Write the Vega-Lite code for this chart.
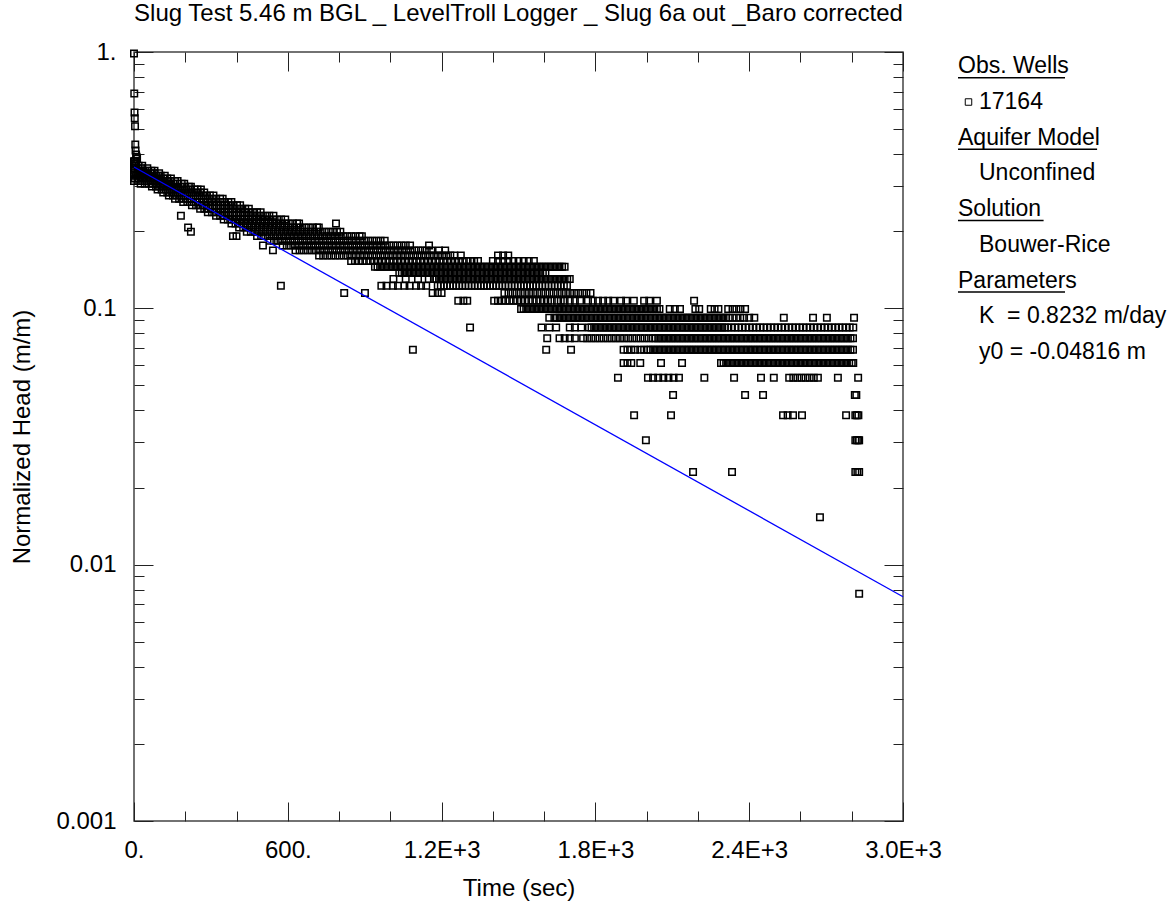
{
"$schema": "https://vega.github.io/schema/vega-lite/v6.json",
"background": "#ffffff",
"padding": {"left": 10, "top": 1, "right": 0, "bottom": 0},
"spacing": 14,
"config": {
  "view": {"stroke": null},
  "font": "Liberation Sans",
  "axis": {"labelFont": "Liberation Sans", "titleFont": "Liberation Sans", "labelFontSize": 24, "titleFontSize": 24, "titleFontWeight": "normal", "labelColor": "#000000", "titleColor": "#000000", "grid": false, "domain": false, "tickColor": "#222222", "tickWidth": 1, "labelFlush": false, "labelOverlap": false},
  "title": {"font": "Liberation Sans", "fontSize": 24, "fontWeight": "normal", "color": "#000000"}
},
"datasets": {
"fit": [{"t":0,"h":0.356},{"t":3000,"h":0.0075}],
"notes": [
{"line":1,"role":"heading","label":"Obs. Wells"},
{"line":2,"role":"symbol","label":"17164"},
{"line":2,"role":"item","label":"17164"},
{"line":3,"role":"heading","label":"Aquifer Model"},
{"line":4,"role":"item","label":"Unconfined"},
{"line":5,"role":"heading","label":"Solution"},
{"line":6,"role":"item","label":"Bouwer-Rice"},
{"line":7,"role":"heading","label":"Parameters"},
{"line":8,"role":"item","label":"K\u00a0 = 0.8232 m/day"},
{"line":9,"role":"item","label":"y0 = -0.04816 m"}
],
"obs": [
{"t":0,"h":0.987},{"t":1,"h":0.689},{"t":2,"h":0.581},{"t":3,"h":0.551},{"t":4,"h":0.513},{"t":5,"h":0.436},{"t":6,"h":0.413},{"t":8,"h":0.398},{"t":10,"h":0.39},{"t":12,"h":0.383},
{"t":0,"h":0.3749},{"t":4,"h":0.3749},
{"t":0,"h":0.3672},{"t":8,"h":0.3672},
{"t":2,"h":0.3596},{"t":18,"h":0.3596},{"t":32,"h":0.3596},
{"t":0,"h":0.3519},{"t":16,"h":0.3519},{"t":32,"h":0.3519},{"t":52,"h":0.3519},
{"t":4,"h":0.3443},{"t":20,"h":0.3443},{"t":36,"h":0.3443},{"t":52,"h":0.3443},{"t":68,"h":0.3443},{"t":80,"h":0.3443},
{"t":0,"h":0.3366},{"t":16,"h":0.3366},{"t":32,"h":0.3366},{"t":48,"h":0.3366},{"t":64,"h":0.3366},{"t":80,"h":0.3366},{"t":98,"h":0.3366},
{"t":8,"h":0.329},{"t":24,"h":0.329},{"t":40,"h":0.329},{"t":56,"h":0.329},{"t":72,"h":0.329},{"t":88,"h":0.329},{"t":104,"h":0.329},{"t":120,"h":0.329},
{"t":4,"h":0.3213},{"t":18,"h":0.3213},{"t":34,"h":0.3213},{"t":50,"h":0.3213},{"t":66,"h":0.3213},{"t":82,"h":0.3213},{"t":98,"h":0.3213},{"t":114,"h":0.3213},{"t":130,"h":0.3213},{"t":144,"h":0.3213},
{"t":0,"h":0.3137},{"t":16,"h":0.3137},{"t":32,"h":0.3137},{"t":48,"h":0.3137},{"t":64,"h":0.3137},{"t":80,"h":0.3137},{"t":96,"h":0.3137},{"t":112,"h":0.3137},{"t":128,"h":0.3137},{"t":144,"h":0.3137},{"t":160,"h":0.3137},{"t":170,"h":0.3137},
{"t":26,"h":0.306},{"t":42,"h":0.306},{"t":58,"h":0.306},{"t":74,"h":0.306},{"t":90,"h":0.306},{"t":106,"h":0.306},{"t":122,"h":0.306},{"t":138,"h":0.306},{"t":154,"h":0.306},{"t":170,"h":0.306},{"t":186,"h":0.306},{"t":196,"h":0.306},
{"t":70,"h":0.2984},{"t":86,"h":0.2984},{"t":102,"h":0.2984},{"t":118,"h":0.2984},{"t":134,"h":0.2984},{"t":150,"h":0.2984},{"t":166,"h":0.2984},{"t":182,"h":0.2984},{"t":198,"h":0.2984},{"t":214,"h":0.2984},{"t":222,"h":0.2984},
{"t":92,"h":0.2907},{"t":108,"h":0.2907},{"t":124,"h":0.2907},{"t":140,"h":0.2907},{"t":156,"h":0.2907},{"t":172,"h":0.2907},{"t":188,"h":0.2907},{"t":204,"h":0.2907},{"t":220,"h":0.2907},{"t":236,"h":0.2907},{"t":248,"h":0.2907},{"t":261,"h":0.2907},
{"t":114,"h":0.2831},{"t":130,"h":0.2831},{"t":146,"h":0.2831},{"t":162,"h":0.2831},{"t":178,"h":0.2831},{"t":194,"h":0.2831},{"t":210,"h":0.2831},{"t":226,"h":0.2831},{"t":242,"h":0.2831},{"t":258,"h":0.2831},{"t":274,"h":0.2831},
{"t":136,"h":0.2754},{"t":152,"h":0.2754},{"t":168,"h":0.2754},{"t":184,"h":0.2754},{"t":200,"h":0.2754},{"t":216,"h":0.2754},{"t":232,"h":0.2754},{"t":248,"h":0.2754},{"t":264,"h":0.2754},{"t":280,"h":0.2754},{"t":296,"h":0.2754},{"t":310,"h":0.2754},
{"t":160,"h":0.2678},{"t":176,"h":0.2678},{"t":192,"h":0.2678},{"t":208,"h":0.2678},{"t":224,"h":0.2678},{"t":240,"h":0.2678},{"t":256,"h":0.2678},{"t":272,"h":0.2678},{"t":288,"h":0.2678},{"t":304,"h":0.2678},{"t":320,"h":0.2678},{"t":336,"h":0.2678},{"t":346,"h":0.2678},
{"t":192,"h":0.2601},{"t":208,"h":0.2601},{"t":224,"h":0.2601},{"t":240,"h":0.2601},{"t":256,"h":0.2601},{"t":272,"h":0.2601},{"t":288,"h":0.2601},{"t":304,"h":0.2601},{"t":320,"h":0.2601},{"t":336,"h":0.2601},{"t":352,"h":0.2601},{"t":368,"h":0.2601},{"t":380,"h":0.2601},
{"t":226,"h":0.2525},{"t":242,"h":0.2525},{"t":258,"h":0.2525},{"t":274,"h":0.2525},{"t":290,"h":0.2525},{"t":306,"h":0.2525},{"t":322,"h":0.2525},{"t":338,"h":0.2525},{"t":354,"h":0.2525},{"t":370,"h":0.2525},{"t":386,"h":0.2525},{"t":402,"h":0.2525},{"t":414,"h":0.2525},
{"t":258,"h":0.2448},{"t":274,"h":0.2448},{"t":290,"h":0.2448},{"t":306,"h":0.2448},{"t":322,"h":0.2448},{"t":338,"h":0.2448},{"t":354,"h":0.2448},{"t":370,"h":0.2448},{"t":386,"h":0.2448},{"t":402,"h":0.2448},{"t":418,"h":0.2448},{"t":434,"h":0.2448},{"t":448,"h":0.2448},
{"t":288,"h":0.2372},{"t":304,"h":0.2372},{"t":320,"h":0.2372},{"t":336,"h":0.2372},{"t":352,"h":0.2372},{"t":368,"h":0.2372},{"t":384,"h":0.2372},{"t":400,"h":0.2372},{"t":416,"h":0.2372},{"t":432,"h":0.2372},{"t":448,"h":0.2372},{"t":464,"h":0.2372},{"t":480,"h":0.2372},{"t":494,"h":0.2372},
{"t":183,"h":0.2295},{"t":320,"h":0.2295},{"t":336,"h":0.2295},{"t":352,"h":0.2295},{"t":368,"h":0.2295},{"t":384,"h":0.2295},{"t":400,"h":0.2295},{"t":416,"h":0.2295},{"t":432,"h":0.2295},{"t":448,"h":0.2295},{"t":464,"h":0.2295},{"t":480,"h":0.2295},{"t":496,"h":0.2295},{"t":512,"h":0.2295},{"t":528,"h":0.2295},{"t":544,"h":0.2295},
{"t":350,"h":0.2219},{"t":366,"h":0.2219},{"t":382,"h":0.2219},{"t":398,"h":0.2219},{"t":414,"h":0.2219},{"t":430,"h":0.2219},{"t":446,"h":0.2219},{"t":462,"h":0.2219},{"t":478,"h":0.2219},{"t":494,"h":0.2219},{"t":510,"h":0.2219},{"t":526,"h":0.2219},{"t":542,"h":0.2219},{"t":558,"h":0.2219},{"t":574,"h":0.2219},{"t":590,"h":0.2219},
{"t":380,"h":0.2142},{"t":396,"h":0.2142},{"t":412,"h":0.2142},{"t":428,"h":0.2142},{"t":444,"h":0.2142},{"t":460,"h":0.2142},{"t":476,"h":0.2142},{"t":492,"h":0.2142},{"t":508,"h":0.2142},{"t":524,"h":0.2142},{"t":540,"h":0.2142},{"t":556,"h":0.2142},{"t":572,"h":0.2142},{"t":588,"h":0.2142},{"t":604,"h":0.2142},{"t":620,"h":0.2142},{"t":636,"h":0.2142},{"t":644,"h":0.2142},{"t":788,"h":0.2142},
{"t":211,"h":0.2066},{"t":410,"h":0.2066},{"t":426,"h":0.2066},{"t":442,"h":0.2066},{"t":458,"h":0.2066},{"t":474,"h":0.2066},{"t":490,"h":0.2066},{"t":506,"h":0.2066},{"t":522,"h":0.2066},{"t":538,"h":0.2066},{"t":554,"h":0.2066},{"t":570,"h":0.2066},{"t":586,"h":0.2066},{"t":602,"h":0.2066},{"t":618,"h":0.2066},{"t":634,"h":0.2066},{"t":650,"h":0.2066},{"t":666,"h":0.2066},{"t":682,"h":0.2066},{"t":698,"h":0.2066},{"t":714,"h":0.2066},{"t":721,"h":0.2066},
{"t":222,"h":0.1989},{"t":440,"h":0.1989},{"t":456,"h":0.1989},{"t":472,"h":0.1989},{"t":488,"h":0.1989},{"t":504,"h":0.1989},{"t":520,"h":0.1989},{"t":536,"h":0.1989},{"t":552,"h":0.1989},{"t":568,"h":0.1989},{"t":584,"h":0.1989},{"t":600,"h":0.1989},{"t":616,"h":0.1989},{"t":632,"h":0.1989},{"t":648,"h":0.1989},{"t":664,"h":0.1989},{"t":680,"h":0.1989},{"t":696,"h":0.1989},{"t":712,"h":0.1989},{"t":728,"h":0.1989},{"t":744,"h":0.1989},{"t":760,"h":0.1989},{"t":776,"h":0.1989},{"t":792,"h":0.1989},{"t":805,"h":0.1989},
{"t":386,"h":0.1913},{"t":400,"h":0.1913},{"t":480,"h":0.1913},{"t":496,"h":0.1913},{"t":512,"h":0.1913},{"t":528,"h":0.1913},{"t":544,"h":0.1913},{"t":560,"h":0.1913},{"t":576,"h":0.1913},{"t":592,"h":0.1913},{"t":608,"h":0.1913},{"t":624,"h":0.1913},{"t":640,"h":0.1913},{"t":656,"h":0.1913},{"t":672,"h":0.1913},{"t":688,"h":0.1913},{"t":704,"h":0.1913},{"t":720,"h":0.1913},{"t":736,"h":0.1913},{"t":752,"h":0.1913},{"t":768,"h":0.1913},{"t":784,"h":0.1913},{"t":800,"h":0.1913},{"t":816,"h":0.1913},{"t":832,"h":0.1913},{"t":848,"h":0.1913},{"t":864,"h":0.1913},{"t":880,"h":0.1913},{"t":889,"h":0.1913},
{"t":530,"h":0.1836},{"t":546,"h":0.1836},{"t":562,"h":0.1836},{"t":578,"h":0.1836},{"t":594,"h":0.1836},{"t":610,"h":0.1836},{"t":626,"h":0.1836},{"t":642,"h":0.1836},{"t":658,"h":0.1836},{"t":674,"h":0.1836},{"t":690,"h":0.1836},{"t":706,"h":0.1836},{"t":722,"h":0.1836},{"t":738,"h":0.1836},{"t":754,"h":0.1836},{"t":770,"h":0.1836},{"t":786,"h":0.1836},{"t":802,"h":0.1836},{"t":818,"h":0.1836},{"t":834,"h":0.1836},{"t":850,"h":0.1836},{"t":866,"h":0.1836},{"t":882,"h":0.1836},{"t":898,"h":0.1836},{"t":914,"h":0.1836},{"t":930,"h":0.1836},{"t":946,"h":0.1836},{"t":962,"h":0.1836},{"t":978,"h":0.1836},
{"t":503,"h":0.176},{"t":580,"h":0.176},{"t":596,"h":0.176},{"t":612,"h":0.176},{"t":628,"h":0.176},{"t":644,"h":0.176},{"t":660,"h":0.176},{"t":676,"h":0.176},{"t":692,"h":0.176},{"t":708,"h":0.176},{"t":724,"h":0.176},{"t":740,"h":0.176},{"t":756,"h":0.176},{"t":772,"h":0.176},{"t":788,"h":0.176},{"t":804,"h":0.176},{"t":820,"h":0.176},{"t":836,"h":0.176},{"t":852,"h":0.176},{"t":868,"h":0.176},{"t":884,"h":0.176},{"t":900,"h":0.176},{"t":916,"h":0.176},{"t":932,"h":0.176},{"t":948,"h":0.176},{"t":964,"h":0.176},{"t":980,"h":0.176},{"t":996,"h":0.176},{"t":1012,"h":0.176},{"t":1028,"h":0.176},{"t":1044,"h":0.176},{"t":1060,"h":0.176},{"t":1077,"h":0.176},{"t":1151,"h":0.176},
{"t":542,"h":0.1683},{"t":630,"h":0.1683},{"t":646,"h":0.1683},{"t":662,"h":0.1683},{"t":678,"h":0.1683},{"t":694,"h":0.1683},{"t":710,"h":0.1683},{"t":726,"h":0.1683},{"t":742,"h":0.1683},{"t":758,"h":0.1683},{"t":774,"h":0.1683},{"t":790,"h":0.1683},{"t":806,"h":0.1683},{"t":822,"h":0.1683},{"t":838,"h":0.1683},{"t":854,"h":0.1683},{"t":870,"h":0.1683},{"t":886,"h":0.1683},{"t":902,"h":0.1683},{"t":918,"h":0.1683},{"t":934,"h":0.1683},{"t":950,"h":0.1683},{"t":966,"h":0.1683},{"t":982,"h":0.1683},{"t":998,"h":0.1683},{"t":1014,"h":0.1683},{"t":1030,"h":0.1683},{"t":1046,"h":0.1683},{"t":1062,"h":0.1683},{"t":1078,"h":0.1683},{"t":1094,"h":0.1683},{"t":1110,"h":0.1683},{"t":1126,"h":0.1683},{"t":1142,"h":0.1683},{"t":1160,"h":0.1683},{"t":1190,"h":0.1683},{"t":1214,"h":0.1683},
{"t":722,"h":0.1607},{"t":738,"h":0.1607},{"t":754,"h":0.1607},{"t":770,"h":0.1607},{"t":786,"h":0.1607},{"t":802,"h":0.1607},{"t":818,"h":0.1607},{"t":834,"h":0.1607},{"t":850,"h":0.1607},{"t":866,"h":0.1607},{"t":882,"h":0.1607},{"t":898,"h":0.1607},{"t":914,"h":0.1607},{"t":930,"h":0.1607},{"t":946,"h":0.1607},{"t":962,"h":0.1607},{"t":978,"h":0.1607},{"t":994,"h":0.1607},{"t":1010,"h":0.1607},{"t":1026,"h":0.1607},{"t":1042,"h":0.1607},{"t":1058,"h":0.1607},{"t":1074,"h":0.1607},{"t":1090,"h":0.1607},{"t":1106,"h":0.1607},{"t":1122,"h":0.1607},{"t":1138,"h":0.1607},{"t":1154,"h":0.1607},{"t":1170,"h":0.1607},{"t":1186,"h":0.1607},{"t":1202,"h":0.1607},{"t":1218,"h":0.1607},{"t":1234,"h":0.1607},{"t":1250,"h":0.1607},{"t":1275,"h":0.1607},{"t":1420,"h":0.1607},{"t":1440,"h":0.1607},{"t":1460,"h":0.1607},
{"t":847,"h":0.153},{"t":862,"h":0.153},{"t":877,"h":0.153},{"t":892,"h":0.153},{"t":907,"h":0.153},{"t":922,"h":0.153},{"t":937,"h":0.153},{"t":952,"h":0.153},{"t":967,"h":0.153},{"t":982,"h":0.153},{"t":997,"h":0.153},{"t":1012,"h":0.153},{"t":1027,"h":0.153},{"t":1042,"h":0.153},{"t":1057,"h":0.153},{"t":1072,"h":0.153},{"t":1087,"h":0.153},{"t":1102,"h":0.153},{"t":1117,"h":0.153},{"t":1132,"h":0.153},{"t":1147,"h":0.153},{"t":1162,"h":0.153},{"t":1177,"h":0.153},{"t":1192,"h":0.153},{"t":1207,"h":0.153},{"t":1222,"h":0.153},{"t":1237,"h":0.153},{"t":1252,"h":0.153},{"t":1267,"h":0.153},{"t":1282,"h":0.153},{"t":1297,"h":0.153},{"t":1312,"h":0.153},{"t":1327,"h":0.153},{"t":1342,"h":0.153},{"t":1400,"h":0.153},{"t":1420,"h":0.153},{"t":1440,"h":0.153},{"t":1460,"h":0.153},{"t":1480,"h":0.153},{"t":1500,"h":0.153},{"t":1520,"h":0.153},{"t":1540,"h":0.153},{"t":1560,"h":0.153},
{"t":940,"h":0.1454},{"t":950,"h":0.1454},{"t":960,"h":0.1454},{"t":970,"h":0.1454},{"t":980,"h":0.1454},{"t":990,"h":0.1454},{"t":1000,"h":0.1454},{"t":1010,"h":0.1454},{"t":1020,"h":0.1454},{"t":1030,"h":0.1454},{"t":1040,"h":0.1454},{"t":1050,"h":0.1454},{"t":1060,"h":0.1454},{"t":1070,"h":0.1454},{"t":1080,"h":0.1454},{"t":1090,"h":0.1454},{"t":1100,"h":0.1454},{"t":1110,"h":0.1454},{"t":1120,"h":0.1454},{"t":1130,"h":0.1454},{"t":1140,"h":0.1454},{"t":1150,"h":0.1454},{"t":1160,"h":0.1454},{"t":1170,"h":0.1454},{"t":1180,"h":0.1454},{"t":1190,"h":0.1454},{"t":1200,"h":0.1454},{"t":1210,"h":0.1454},{"t":1220,"h":0.1454},{"t":1230,"h":0.1454},{"t":1240,"h":0.1454},{"t":1250,"h":0.1454},{"t":1260,"h":0.1454},{"t":1270,"h":0.1454},{"t":1280,"h":0.1454},{"t":1290,"h":0.1454},{"t":1300,"h":0.1454},{"t":1310,"h":0.1454},{"t":1320,"h":0.1454},{"t":1330,"h":0.1454},{"t":1340,"h":0.1454},{"t":1350,"h":0.1454},{"t":1360,"h":0.1454},{"t":1370,"h":0.1454},{"t":1380,"h":0.1454},{"t":1390,"h":0.1454},{"t":1400,"h":0.1454},{"t":1410,"h":0.1454},{"t":1420,"h":0.1454},{"t":1430,"h":0.1454},{"t":1440,"h":0.1454},{"t":1450,"h":0.1454},{"t":1460,"h":0.1454},{"t":1470,"h":0.1454},{"t":1480,"h":0.1454},{"t":1490,"h":0.1454},{"t":1500,"h":0.1454},{"t":1510,"h":0.1454},{"t":1520,"h":0.1454},{"t":1530,"h":0.1454},{"t":1540,"h":0.1454},{"t":1550,"h":0.1454},{"t":1560,"h":0.1454},{"t":1570,"h":0.1454},{"t":1580,"h":0.1454},{"t":1590,"h":0.1454},{"t":1600,"h":0.1454},{"t":1610,"h":0.1454},{"t":1620,"h":0.1454},{"t":1630,"h":0.1454},{"t":1640,"h":0.1454},{"t":1650,"h":0.1454},{"t":1660,"h":0.1454},{"t":1670,"h":0.1454},{"t":1680,"h":0.1454},
{"t":1035,"h":0.1377},{"t":1045,"h":0.1377},{"t":1055,"h":0.1377},{"t":1065,"h":0.1377},{"t":1075,"h":0.1377},{"t":1085,"h":0.1377},{"t":1095,"h":0.1377},{"t":1105,"h":0.1377},{"t":1115,"h":0.1377},{"t":1125,"h":0.1377},{"t":1135,"h":0.1377},{"t":1145,"h":0.1377},{"t":1155,"h":0.1377},{"t":1165,"h":0.1377},{"t":1175,"h":0.1377},{"t":1185,"h":0.1377},{"t":1195,"h":0.1377},{"t":1205,"h":0.1377},{"t":1215,"h":0.1377},{"t":1225,"h":0.1377},{"t":1235,"h":0.1377},{"t":1245,"h":0.1377},{"t":1255,"h":0.1377},{"t":1265,"h":0.1377},{"t":1275,"h":0.1377},{"t":1285,"h":0.1377},{"t":1295,"h":0.1377},{"t":1305,"h":0.1377},{"t":1315,"h":0.1377},{"t":1325,"h":0.1377},{"t":1335,"h":0.1377},{"t":1345,"h":0.1377},{"t":1355,"h":0.1377},{"t":1365,"h":0.1377},{"t":1375,"h":0.1377},{"t":1385,"h":0.1377},{"t":1395,"h":0.1377},{"t":1405,"h":0.1377},{"t":1415,"h":0.1377},{"t":1425,"h":0.1377},{"t":1435,"h":0.1377},{"t":1445,"h":0.1377},{"t":1455,"h":0.1377},{"t":1465,"h":0.1377},{"t":1475,"h":0.1377},{"t":1485,"h":0.1377},{"t":1495,"h":0.1377},{"t":1505,"h":0.1377},{"t":1515,"h":0.1377},{"t":1525,"h":0.1377},{"t":1535,"h":0.1377},{"t":1545,"h":0.1377},{"t":1555,"h":0.1377},{"t":1565,"h":0.1377},{"t":1575,"h":0.1377},{"t":1585,"h":0.1377},{"t":1595,"h":0.1377},{"t":1605,"h":0.1377},
{"t":1012,"h":0.1301},{"t":1060,"h":0.1301},{"t":1108,"h":0.1301},{"t":1150,"h":0.1301},{"t":1170,"h":0.1301},{"t":1180,"h":0.1301},{"t":1190,"h":0.1301},{"t":1200,"h":0.1301},{"t":1210,"h":0.1301},{"t":1220,"h":0.1301},{"t":1230,"h":0.1301},{"t":1240,"h":0.1301},{"t":1250,"h":0.1301},{"t":1260,"h":0.1301},{"t":1270,"h":0.1301},{"t":1280,"h":0.1301},{"t":1290,"h":0.1301},{"t":1300,"h":0.1301},{"t":1310,"h":0.1301},{"t":1320,"h":0.1301},{"t":1330,"h":0.1301},{"t":1340,"h":0.1301},{"t":1350,"h":0.1301},{"t":1360,"h":0.1301},{"t":1370,"h":0.1301},{"t":1380,"h":0.1301},{"t":1390,"h":0.1301},{"t":1400,"h":0.1301},{"t":1410,"h":0.1301},{"t":1420,"h":0.1301},{"t":1430,"h":0.1301},{"t":1440,"h":0.1301},{"t":1450,"h":0.1301},{"t":1460,"h":0.1301},{"t":1470,"h":0.1301},{"t":1480,"h":0.1301},{"t":1490,"h":0.1301},{"t":1500,"h":0.1301},{"t":1510,"h":0.1301},{"t":1520,"h":0.1301},{"t":1530,"h":0.1301},{"t":1540,"h":0.1301},{"t":1550,"h":0.1301},{"t":1560,"h":0.1301},{"t":1570,"h":0.1301},{"t":1580,"h":0.1301},{"t":1590,"h":0.1301},{"t":1600,"h":0.1301},{"t":1610,"h":0.1301},{"t":1620,"h":0.1301},{"t":1630,"h":0.1301},{"t":1640,"h":0.1301},{"t":1650,"h":0.1301},{"t":1660,"h":0.1301},{"t":1670,"h":0.1301},{"t":1680,"h":0.1301},{"t":1690,"h":0.1301},{"t":1700,"h":0.1301},
{"t":573,"h":0.1224},{"t":965,"h":0.1224},{"t":985,"h":0.1224},{"t":1010,"h":0.1224},{"t":1030,"h":0.1224},{"t":1055,"h":0.1224},{"t":1075,"h":0.1224},{"t":1100,"h":0.1224},{"t":1120,"h":0.1224},{"t":1140,"h":0.1224},{"t":1185,"h":0.1224},{"t":1197,"h":0.1224},{"t":1209,"h":0.1224},{"t":1221,"h":0.1224},{"t":1233,"h":0.1224},{"t":1245,"h":0.1224},{"t":1257,"h":0.1224},{"t":1269,"h":0.1224},{"t":1281,"h":0.1224},{"t":1293,"h":0.1224},{"t":1305,"h":0.1224},{"t":1317,"h":0.1224},{"t":1329,"h":0.1224},{"t":1341,"h":0.1224},{"t":1353,"h":0.1224},{"t":1365,"h":0.1224},{"t":1377,"h":0.1224},{"t":1389,"h":0.1224},{"t":1401,"h":0.1224},{"t":1413,"h":0.1224},{"t":1425,"h":0.1224},{"t":1437,"h":0.1224},{"t":1449,"h":0.1224},{"t":1461,"h":0.1224},{"t":1473,"h":0.1224},{"t":1485,"h":0.1224},{"t":1497,"h":0.1224},{"t":1509,"h":0.1224},{"t":1521,"h":0.1224},{"t":1533,"h":0.1224},{"t":1545,"h":0.1224},{"t":1557,"h":0.1224},{"t":1569,"h":0.1224},{"t":1581,"h":0.1224},{"t":1593,"h":0.1224},{"t":1605,"h":0.1224},{"t":1617,"h":0.1224},{"t":1629,"h":0.1224},{"t":1641,"h":0.1224},{"t":1653,"h":0.1224},{"t":1665,"h":0.1224},{"t":1677,"h":0.1224},{"t":1689,"h":0.1224},
{"t":820,"h":0.1148},{"t":901,"h":0.1148},{"t":1165,"h":0.1148},{"t":1185,"h":0.1148},{"t":1200,"h":0.1148},{"t":1445,"h":0.1148},{"t":1461,"h":0.1148},{"t":1477,"h":0.1148},{"t":1493,"h":0.1148},{"t":1509,"h":0.1148},{"t":1525,"h":0.1148},{"t":1541,"h":0.1148},{"t":1557,"h":0.1148},{"t":1573,"h":0.1148},{"t":1589,"h":0.1148},{"t":1605,"h":0.1148},{"t":1621,"h":0.1148},{"t":1637,"h":0.1148},{"t":1653,"h":0.1148},{"t":1669,"h":0.1148},{"t":1685,"h":0.1148},{"t":1701,"h":0.1148},{"t":1717,"h":0.1148},{"t":1733,"h":0.1148},{"t":1749,"h":0.1148},{"t":1765,"h":0.1148},{"t":1781,"h":0.1148},
{"t":1265,"h":0.1071},{"t":1285,"h":0.1071},{"t":1300,"h":0.1071},{"t":1405,"h":0.1071},{"t":1420,"h":0.1071},{"t":1435,"h":0.1071},{"t":1450,"h":0.1071},{"t":1465,"h":0.1071},{"t":1480,"h":0.1071},{"t":1495,"h":0.1071},{"t":1510,"h":0.1071},{"t":1525,"h":0.1071},{"t":1540,"h":0.1071},{"t":1555,"h":0.1071},{"t":1570,"h":0.1071},{"t":1585,"h":0.1071},{"t":1600,"h":0.1071},{"t":1615,"h":0.1071},{"t":1630,"h":0.1071},{"t":1650,"h":0.1071},{"t":1665,"h":0.1071},{"t":1680,"h":0.1071},{"t":1700,"h":0.1071},{"t":1720,"h":0.1071},{"t":1740,"h":0.1071},{"t":1771,"h":0.1071},{"t":1790,"h":0.1071},{"t":1810,"h":0.1071},{"t":1830,"h":0.1071},{"t":1850,"h":0.1071},{"t":1870,"h":0.1071},{"t":1900,"h":0.1071},{"t":1920,"h":0.1071},{"t":1950,"h":0.1071},{"t":1990,"h":0.1071},{"t":2010,"h":0.1071},{"t":2040,"h":0.1071},{"t":2185,"h":0.1071},
{"t":1510,"h":0.0995},{"t":1520,"h":0.0995},{"t":1530,"h":0.0995},{"t":1540,"h":0.0995},{"t":1550,"h":0.0995},{"t":1560,"h":0.0995},{"t":1570,"h":0.0995},{"t":1580,"h":0.0995},{"t":1590,"h":0.0995},{"t":1600,"h":0.0995},{"t":1610,"h":0.0995},{"t":1620,"h":0.0995},{"t":1630,"h":0.0995},{"t":1640,"h":0.0995},{"t":1650,"h":0.0995},{"t":1660,"h":0.0995},{"t":1670,"h":0.0995},{"t":1680,"h":0.0995},{"t":1690,"h":0.0995},{"t":1700,"h":0.0995},{"t":1710,"h":0.0995},{"t":1720,"h":0.0995},{"t":1730,"h":0.0995},{"t":1740,"h":0.0995},{"t":1750,"h":0.0995},{"t":1760,"h":0.0995},{"t":1770,"h":0.0995},{"t":1780,"h":0.0995},{"t":1790,"h":0.0995},{"t":1800,"h":0.0995},{"t":1810,"h":0.0995},{"t":1820,"h":0.0995},{"t":1830,"h":0.0995},{"t":1840,"h":0.0995},{"t":1850,"h":0.0995},{"t":1860,"h":0.0995},{"t":1870,"h":0.0995},{"t":1880,"h":0.0995},{"t":1890,"h":0.0995},{"t":1900,"h":0.0995},{"t":1910,"h":0.0995},{"t":1920,"h":0.0995},{"t":1930,"h":0.0995},{"t":1940,"h":0.0995},{"t":1950,"h":0.0995},{"t":1960,"h":0.0995},{"t":1970,"h":0.0995},{"t":1980,"h":0.0995},{"t":1990,"h":0.0995},{"t":2000,"h":0.0995},{"t":2010,"h":0.0995},{"t":2020,"h":0.0995},{"t":2030,"h":0.0995},{"t":2040,"h":0.0995},{"t":2050,"h":0.0995},{"t":2090,"h":0.0995},{"t":2110,"h":0.0995},{"t":2130,"h":0.0995},{"t":2190,"h":0.0995},{"t":2205,"h":0.0995},{"t":2250,"h":0.0995},{"t":2265,"h":0.0995},{"t":2280,"h":0.0995},{"t":2318,"h":0.0995},{"t":2335,"h":0.0995},{"t":2350,"h":0.0995},{"t":2366,"h":0.0995},{"t":2384,"h":0.0995},
{"t":1620,"h":0.0918},{"t":1640,"h":0.0918},{"t":1650,"h":0.0918},{"t":1660,"h":0.0918},{"t":1670,"h":0.0918},{"t":1680,"h":0.0918},{"t":1690,"h":0.0918},{"t":1700,"h":0.0918},{"t":1710,"h":0.0918},{"t":1720,"h":0.0918},{"t":1730,"h":0.0918},{"t":1740,"h":0.0918},{"t":1750,"h":0.0918},{"t":1760,"h":0.0918},{"t":1770,"h":0.0918},{"t":1780,"h":0.0918},{"t":1790,"h":0.0918},{"t":1800,"h":0.0918},{"t":1810,"h":0.0918},{"t":1820,"h":0.0918},{"t":1830,"h":0.0918},{"t":1840,"h":0.0918},{"t":1850,"h":0.0918},{"t":1860,"h":0.0918},{"t":1870,"h":0.0918},{"t":1880,"h":0.0918},{"t":1890,"h":0.0918},{"t":1900,"h":0.0918},{"t":1910,"h":0.0918},{"t":1920,"h":0.0918},{"t":1930,"h":0.0918},{"t":1940,"h":0.0918},{"t":1950,"h":0.0918},{"t":1960,"h":0.0918},{"t":1970,"h":0.0918},{"t":1980,"h":0.0918},{"t":1990,"h":0.0918},{"t":2000,"h":0.0918},{"t":2010,"h":0.0918},{"t":2020,"h":0.0918},{"t":2030,"h":0.0918},{"t":2040,"h":0.0918},{"t":2050,"h":0.0918},{"t":2060,"h":0.0918},{"t":2070,"h":0.0918},{"t":2080,"h":0.0918},{"t":2090,"h":0.0918},{"t":2100,"h":0.0918},{"t":2110,"h":0.0918},{"t":2120,"h":0.0918},{"t":2130,"h":0.0918},{"t":2140,"h":0.0918},{"t":2150,"h":0.0918},{"t":2160,"h":0.0918},{"t":2170,"h":0.0918},{"t":2180,"h":0.0918},{"t":2190,"h":0.0918},{"t":2200,"h":0.0918},{"t":2210,"h":0.0918},{"t":2220,"h":0.0918},{"t":2230,"h":0.0918},{"t":2240,"h":0.0918},{"t":2250,"h":0.0918},{"t":2260,"h":0.0918},{"t":2270,"h":0.0918},{"t":2280,"h":0.0918},{"t":2290,"h":0.0918},{"t":2300,"h":0.0918},{"t":2310,"h":0.0918},{"t":2320,"h":0.0918},{"t":2335,"h":0.0918},{"t":2350,"h":0.0918},{"t":2365,"h":0.0918},{"t":2380,"h":0.0918},{"t":2400,"h":0.0918},{"t":2420,"h":0.0918},{"t":2535,"h":0.0918},{"t":2649,"h":0.0918},{"t":2703,"h":0.0918},{"t":2809,"h":0.0918},
{"t":1311,"h":0.0842},{"t":1590,"h":0.0842},{"t":1620,"h":0.0842},{"t":1647,"h":0.0842},{"t":1700,"h":0.0842},{"t":1720,"h":0.0842},{"t":1745,"h":0.0842},{"t":1775,"h":0.0842},{"t":1785,"h":0.0842},{"t":1795,"h":0.0842},{"t":1805,"h":0.0842},{"t":1815,"h":0.0842},{"t":1825,"h":0.0842},{"t":1835,"h":0.0842},{"t":1845,"h":0.0842},{"t":1855,"h":0.0842},{"t":1865,"h":0.0842},{"t":1875,"h":0.0842},{"t":1885,"h":0.0842},{"t":1895,"h":0.0842},{"t":1905,"h":0.0842},{"t":1915,"h":0.0842},{"t":1925,"h":0.0842},{"t":1935,"h":0.0842},{"t":1945,"h":0.0842},{"t":1955,"h":0.0842},{"t":1965,"h":0.0842},{"t":1975,"h":0.0842},{"t":1985,"h":0.0842},{"t":1995,"h":0.0842},{"t":2005,"h":0.0842},{"t":2015,"h":0.0842},{"t":2025,"h":0.0842},{"t":2035,"h":0.0842},{"t":2045,"h":0.0842},{"t":2055,"h":0.0842},{"t":2065,"h":0.0842},{"t":2075,"h":0.0842},{"t":2085,"h":0.0842},{"t":2095,"h":0.0842},{"t":2105,"h":0.0842},{"t":2115,"h":0.0842},{"t":2125,"h":0.0842},{"t":2135,"h":0.0842},{"t":2145,"h":0.0842},{"t":2155,"h":0.0842},{"t":2165,"h":0.0842},{"t":2175,"h":0.0842},{"t":2185,"h":0.0842},{"t":2195,"h":0.0842},{"t":2205,"h":0.0842},{"t":2215,"h":0.0842},{"t":2225,"h":0.0842},{"t":2235,"h":0.0842},{"t":2245,"h":0.0842},{"t":2255,"h":0.0842},{"t":2265,"h":0.0842},{"t":2275,"h":0.0842},{"t":2285,"h":0.0842},{"t":2295,"h":0.0842},{"t":2305,"h":0.0842},{"t":2315,"h":0.0842},{"t":2330,"h":0.0842},{"t":2344,"h":0.0842},{"t":2358,"h":0.0842},{"t":2372,"h":0.0842},{"t":2386,"h":0.0842},{"t":2400,"h":0.0842},{"t":2414,"h":0.0842},{"t":2428,"h":0.0842},{"t":2442,"h":0.0842},{"t":2456,"h":0.0842},{"t":2470,"h":0.0842},{"t":2484,"h":0.0842},{"t":2498,"h":0.0842},{"t":2512,"h":0.0842},{"t":2526,"h":0.0842},{"t":2540,"h":0.0842},{"t":2554,"h":0.0842},{"t":2568,"h":0.0842},{"t":2582,"h":0.0842},{"t":2596,"h":0.0842},{"t":2610,"h":0.0842},{"t":2624,"h":0.0842},{"t":2638,"h":0.0842},{"t":2652,"h":0.0842},{"t":2666,"h":0.0842},{"t":2680,"h":0.0842},{"t":2694,"h":0.0842},{"t":2708,"h":0.0842},{"t":2722,"h":0.0842},{"t":2736,"h":0.0842},{"t":2750,"h":0.0842},{"t":2764,"h":0.0842},{"t":2778,"h":0.0842},{"t":2792,"h":0.0842},{"t":2806,"h":0.0842},
{"t":1612,"h":0.0765},{"t":1660,"h":0.0765},{"t":1680,"h":0.0765},{"t":1700,"h":0.0765},{"t":1720,"h":0.0765},{"t":1752,"h":0.0765},{"t":1768,"h":0.0765},{"t":1784,"h":0.0765},{"t":1800,"h":0.0765},{"t":1816,"h":0.0765},{"t":1832,"h":0.0765},{"t":1848,"h":0.0765},{"t":1864,"h":0.0765},{"t":1880,"h":0.0765},{"t":1896,"h":0.0765},{"t":1912,"h":0.0765},{"t":1928,"h":0.0765},{"t":1944,"h":0.0765},{"t":1960,"h":0.0765},{"t":1976,"h":0.0765},{"t":1992,"h":0.0765},{"t":2008,"h":0.0765},{"t":2024,"h":0.0765},{"t":2035,"h":0.0765},{"t":2045,"h":0.0765},{"t":2055,"h":0.0765},{"t":2065,"h":0.0765},{"t":2075,"h":0.0765},{"t":2085,"h":0.0765},{"t":2095,"h":0.0765},{"t":2105,"h":0.0765},{"t":2115,"h":0.0765},{"t":2125,"h":0.0765},{"t":2135,"h":0.0765},{"t":2145,"h":0.0765},{"t":2155,"h":0.0765},{"t":2165,"h":0.0765},{"t":2175,"h":0.0765},{"t":2185,"h":0.0765},{"t":2195,"h":0.0765},{"t":2205,"h":0.0765},{"t":2215,"h":0.0765},{"t":2225,"h":0.0765},{"t":2235,"h":0.0765},{"t":2245,"h":0.0765},{"t":2255,"h":0.0765},{"t":2265,"h":0.0765},{"t":2275,"h":0.0765},{"t":2285,"h":0.0765},{"t":2295,"h":0.0765},{"t":2305,"h":0.0765},{"t":2315,"h":0.0765},{"t":2325,"h":0.0765},{"t":2335,"h":0.0765},{"t":2345,"h":0.0765},{"t":2355,"h":0.0765},{"t":2365,"h":0.0765},{"t":2375,"h":0.0765},{"t":2385,"h":0.0765},{"t":2395,"h":0.0765},{"t":2405,"h":0.0765},{"t":2415,"h":0.0765},{"t":2425,"h":0.0765},{"t":2435,"h":0.0765},{"t":2445,"h":0.0765},{"t":2455,"h":0.0765},{"t":2465,"h":0.0765},{"t":2475,"h":0.0765},{"t":2485,"h":0.0765},{"t":2495,"h":0.0765},{"t":2505,"h":0.0765},{"t":2515,"h":0.0765},{"t":2525,"h":0.0765},{"t":2535,"h":0.0765},{"t":2545,"h":0.0765},{"t":2555,"h":0.0765},{"t":2565,"h":0.0765},{"t":2575,"h":0.0765},{"t":2585,"h":0.0765},{"t":2595,"h":0.0765},{"t":2605,"h":0.0765},{"t":2615,"h":0.0765},{"t":2625,"h":0.0765},{"t":2635,"h":0.0765},{"t":2645,"h":0.0765},{"t":2655,"h":0.0765},{"t":2665,"h":0.0765},{"t":2675,"h":0.0765},{"t":2685,"h":0.0765},{"t":2695,"h":0.0765},{"t":2705,"h":0.0765},{"t":2715,"h":0.0765},{"t":2725,"h":0.0765},{"t":2735,"h":0.0765},{"t":2745,"h":0.0765},{"t":2755,"h":0.0765},{"t":2765,"h":0.0765},{"t":2775,"h":0.0765},{"t":2785,"h":0.0765},{"t":2795,"h":0.0765},{"t":2805,"h":0.0765},
{"t":1088,"h":0.0689},{"t":1608,"h":0.0689},{"t":1705,"h":0.0689},{"t":1910,"h":0.0689},{"t":1925,"h":0.0689},{"t":1940,"h":0.0689},{"t":1955,"h":0.0689},{"t":1975,"h":0.0689},{"t":1990,"h":0.0689},{"t":2005,"h":0.0689},{"t":2015,"h":0.0689},{"t":2025,"h":0.0689},{"t":2035,"h":0.0689},{"t":2045,"h":0.0689},{"t":2055,"h":0.0689},{"t":2065,"h":0.0689},{"t":2075,"h":0.0689},{"t":2085,"h":0.0689},{"t":2095,"h":0.0689},{"t":2105,"h":0.0689},{"t":2115,"h":0.0689},{"t":2125,"h":0.0689},{"t":2135,"h":0.0689},{"t":2145,"h":0.0689},{"t":2155,"h":0.0689},{"t":2165,"h":0.0689},{"t":2175,"h":0.0689},{"t":2185,"h":0.0689},{"t":2195,"h":0.0689},{"t":2205,"h":0.0689},{"t":2215,"h":0.0689},{"t":2225,"h":0.0689},{"t":2235,"h":0.0689},{"t":2245,"h":0.0689},{"t":2255,"h":0.0689},{"t":2265,"h":0.0689},{"t":2275,"h":0.0689},{"t":2285,"h":0.0689},{"t":2295,"h":0.0689},{"t":2305,"h":0.0689},{"t":2315,"h":0.0689},{"t":2325,"h":0.0689},{"t":2335,"h":0.0689},{"t":2345,"h":0.0689},{"t":2355,"h":0.0689},{"t":2365,"h":0.0689},{"t":2375,"h":0.0689},{"t":2385,"h":0.0689},{"t":2395,"h":0.0689},{"t":2405,"h":0.0689},{"t":2415,"h":0.0689},{"t":2425,"h":0.0689},{"t":2435,"h":0.0689},{"t":2445,"h":0.0689},{"t":2455,"h":0.0689},{"t":2465,"h":0.0689},{"t":2475,"h":0.0689},{"t":2485,"h":0.0689},{"t":2495,"h":0.0689},{"t":2505,"h":0.0689},{"t":2515,"h":0.0689},{"t":2525,"h":0.0689},{"t":2535,"h":0.0689},{"t":2545,"h":0.0689},{"t":2555,"h":0.0689},{"t":2565,"h":0.0689},{"t":2575,"h":0.0689},{"t":2585,"h":0.0689},{"t":2595,"h":0.0689},{"t":2605,"h":0.0689},{"t":2615,"h":0.0689},{"t":2625,"h":0.0689},{"t":2635,"h":0.0689},{"t":2645,"h":0.0689},{"t":2655,"h":0.0689},{"t":2665,"h":0.0689},{"t":2675,"h":0.0689},{"t":2685,"h":0.0689},{"t":2695,"h":0.0689},{"t":2705,"h":0.0689},{"t":2715,"h":0.0689},{"t":2725,"h":0.0689},{"t":2735,"h":0.0689},{"t":2745,"h":0.0689},{"t":2755,"h":0.0689},{"t":2765,"h":0.0689},{"t":2775,"h":0.0689},{"t":2785,"h":0.0689},{"t":2795,"h":0.0689},{"t":2805,"h":0.0689},
{"t":1910,"h":0.0612},{"t":1925,"h":0.0612},{"t":1940,"h":0.0612},{"t":1975,"h":0.0612},{"t":2056,"h":0.0612},{"t":2138,"h":0.0612},{"t":2290,"h":0.0612},{"t":2300,"h":0.0612},{"t":2310,"h":0.0612},{"t":2320,"h":0.0612},{"t":2330,"h":0.0612},{"t":2340,"h":0.0612},{"t":2350,"h":0.0612},{"t":2360,"h":0.0612},{"t":2370,"h":0.0612},{"t":2380,"h":0.0612},{"t":2390,"h":0.0612},{"t":2400,"h":0.0612},{"t":2410,"h":0.0612},{"t":2420,"h":0.0612},{"t":2430,"h":0.0612},{"t":2440,"h":0.0612},{"t":2450,"h":0.0612},{"t":2460,"h":0.0612},{"t":2470,"h":0.0612},{"t":2480,"h":0.0612},{"t":2490,"h":0.0612},{"t":2500,"h":0.0612},{"t":2510,"h":0.0612},{"t":2520,"h":0.0612},{"t":2530,"h":0.0612},{"t":2540,"h":0.0612},{"t":2550,"h":0.0612},{"t":2560,"h":0.0612},{"t":2570,"h":0.0612},{"t":2580,"h":0.0612},{"t":2590,"h":0.0612},{"t":2600,"h":0.0612},{"t":2610,"h":0.0612},{"t":2620,"h":0.0612},{"t":2630,"h":0.0612},{"t":2640,"h":0.0612},{"t":2650,"h":0.0612},{"t":2660,"h":0.0612},{"t":2670,"h":0.0612},{"t":2680,"h":0.0612},{"t":2690,"h":0.0612},{"t":2700,"h":0.0612},{"t":2710,"h":0.0612},{"t":2720,"h":0.0612},{"t":2730,"h":0.0612},{"t":2740,"h":0.0612},{"t":2750,"h":0.0612},{"t":2760,"h":0.0612},{"t":2770,"h":0.0612},{"t":2780,"h":0.0612},{"t":2790,"h":0.0612},{"t":2800,"h":0.0612},{"t":2806,"h":0.0612},
{"t":1888,"h":0.0536},{"t":2005,"h":0.0536},{"t":2025,"h":0.0536},{"t":2045,"h":0.0536},{"t":2065,"h":0.0536},{"t":2085,"h":0.0536},{"t":2105,"h":0.0536},{"t":2126,"h":0.0536},{"t":2225,"h":0.0536},{"t":2341,"h":0.0536},{"t":2446,"h":0.0536},{"t":2496,"h":0.0536},{"t":2556,"h":0.0536},{"t":2572,"h":0.0536},{"t":2588,"h":0.0536},{"t":2604,"h":0.0536},{"t":2620,"h":0.0536},{"t":2636,"h":0.0536},{"t":2652,"h":0.0536},{"t":2668,"h":0.0536},{"t":2746,"h":0.0536},{"t":2825,"h":0.0536},
{"t":2103,"h":0.0459},{"t":2384,"h":0.0459},{"t":2454,"h":0.0459},{"t":2812,"h":0.0459},{"t":2818,"h":0.0459},
{"t":1951,"h":0.0383},{"t":2095,"h":0.0383},{"t":2532,"h":0.0383},{"t":2550,"h":0.0383},{"t":2571,"h":0.0383},{"t":2606,"h":0.0383},{"t":2778,"h":0.0383},{"t":2814,"h":0.0383},{"t":2820,"h":0.0383},{"t":2826,"h":0.0383},
{"t":1997,"h":0.0306},{"t":2814,"h":0.0306},{"t":2820,"h":0.0306},{"t":2826,"h":0.0306},{"t":2829,"h":0.0306},
{"t":2181,"h":0.023},{"t":2333,"h":0.023},{"t":2814,"h":0.023},{"t":2822,"h":0.023},{"t":2829,"h":0.023},
{"t":2676,"h":0.0153},
{"t":2829,"h":0.0077}
]
},
"hconcat": [
{
  "width": 769,
  "height": 769,
  "title": {"text": "Slug Test 5.46 m BGL _ LevelTroll Logger _ Slug 6a out _Baro corrected", "frame": "group", "anchor": "middle", "offset": 14},
  "view": {"stroke": "#444444", "strokeWidth": 1.5},
  "layer": [
    {
      "data": {"name": "obs"},
      "mark": {"type": "point", "shape": "square", "filled": false, "color": "#000000", "size": 42, "strokeWidth": 1.5, "opacity": 1},
      "encoding": {
        "x": {"field": "t", "type": "quantitative", "scale": {"domain": [0, 3000], "nice": false, "zero": false},
              "axis": {"orient": "bottom", "values": [0, 600, 1200, 1800, 2400, 3000], "tickSize": -19, "labelPadding": 36, "labelExpr": "datum.value == 0 ? '0.' : datum.value == 600 ? '600.' : format(datum.value / 1000, '.1f') + 'E+3'", "title": "Time (sec)", "titlePadding": 14}},
        "y": {"field": "h", "type": "quantitative", "scale": {"type": "log", "domain": [0.001, 1], "nice": false},
              "axis": {"orient": "left", "values": [0.001, 0.01, 0.1, 1], "tickSize": -19, "labelPadding": 37, "labelExpr": "datum.value >= 1 ? '1.' : format(datum.value, '~g')", "title": "Normalized Head (m/m)", "titlePadding": 21}}
      }
    },
    {
      "data": {"name": "fit"},
      "mark": {"type": "line", "color": "#0000ff", "strokeWidth": 1.3},
      "encoding": {
        "x": {"field": "t", "type": "quantitative", "axis": {"orient": "bottom", "values": [200, 400, 800, 1000, 1400, 1600, 2000, 2200, 2600, 2800], "tickSize": -10, "labels": false, "title": null}},
        "y": {"field": "h", "type": "quantitative", "axis": {"orient": "left", "values": [0.002, 0.003, 0.004, 0.005, 0.006, 0.007, 0.008, 0.009, 0.02, 0.03, 0.04, 0.05, 0.06, 0.07, 0.08, 0.09, 0.2, 0.3, 0.4, 0.5, 0.6, 0.7, 0.8, 0.9], "tickSize": -10, "labels": false, "title": null}}
      }
    },
    {
      "data": {"name": "fit"},
      "mark": {"type": "point", "opacity": 0},
      "encoding": {
        "x": {"field": "t", "type": "quantitative", "axis": {"orient": "top", "values": [0, 600, 1200, 1800, 2400, 3000], "tickSize": -19, "labels": false, "title": null}},
        "y": {"field": "h", "type": "quantitative", "axis": {"orient": "right", "values": [0.001, 0.01, 0.1, 1], "tickSize": -19, "labels": false, "title": null}}
      }
    },
    {
      "data": {"name": "fit"},
      "mark": {"type": "point", "opacity": 0},
      "encoding": {
        "x": {"field": "t", "type": "quantitative", "axis": {"orient": "top", "values": [200, 400, 800, 1000, 1400, 1600, 2000, 2200, 2600, 2800], "tickSize": -10, "labels": false, "title": null}},
        "y": {"field": "h", "type": "quantitative", "axis": {"orient": "right", "values": [0.002, 0.003, 0.004, 0.005, 0.006, 0.007, 0.008, 0.009, 0.02, 0.03, 0.04, 0.05, 0.06, 0.07, 0.08, 0.09, 0.2, 0.3, 0.4, 0.5, 0.6, 0.7, 0.8, 0.9], "tickSize": -10, "labels": false, "title": null}}
      }
    }
  ],
  "resolve": {"axis": {"x": "independent", "y": "independent"}}
},
{
  "width": 200,
  "height": 340,
  "data": {"name": "notes"},
  "layer": [
    {
      "transform": [{"filter": "datum.role != 'symbol'"}],
      "mark": {"type": "text", "align": "left", "baseline": "alphabetic", "fontSize": 23, "font": "Liberation Sans", "color": "#000000"},
      "encoding": {
        "x": {"field": "role", "type": "ordinal", "scale": {"type": "point", "domain": ["heading", "symbol", "item"], "range": [0, 21], "padding": 0}, "axis": null},
        "y": {"field": "line", "type": "quantitative", "scale": {"domain": [0.403, 9.927], "reverse": true, "nice": false, "zero": false}, "axis": null},
        "text": {"field": "label"}
      }
    },
    {
      "transform": [{"filter": "datum.role == 'heading'"}],
      "mark": {"type": "rule", "color": "#000000", "strokeWidth": 1.5, "yOffset": 4.5},
      "encoding": {
        "x": {"field": "role", "type": "ordinal"},
        "x2": {"value": {"expr": "length(datum.label) * 10.7"}},
        "y": {"field": "line", "type": "quantitative"}
      }
    },
    {
      "transform": [{"filter": "datum.role == 'symbol'"}],
      "mark": {"type": "point", "shape": "square", "filled": false, "color": "#000000", "size": 42, "strokeWidth": 1, "opacity": 1, "yOffset": -7},
      "encoding": {
        "x": {"field": "role", "type": "ordinal"},
        "y": {"field": "line", "type": "quantitative"}
      }
    }
  ]
}
]
}
